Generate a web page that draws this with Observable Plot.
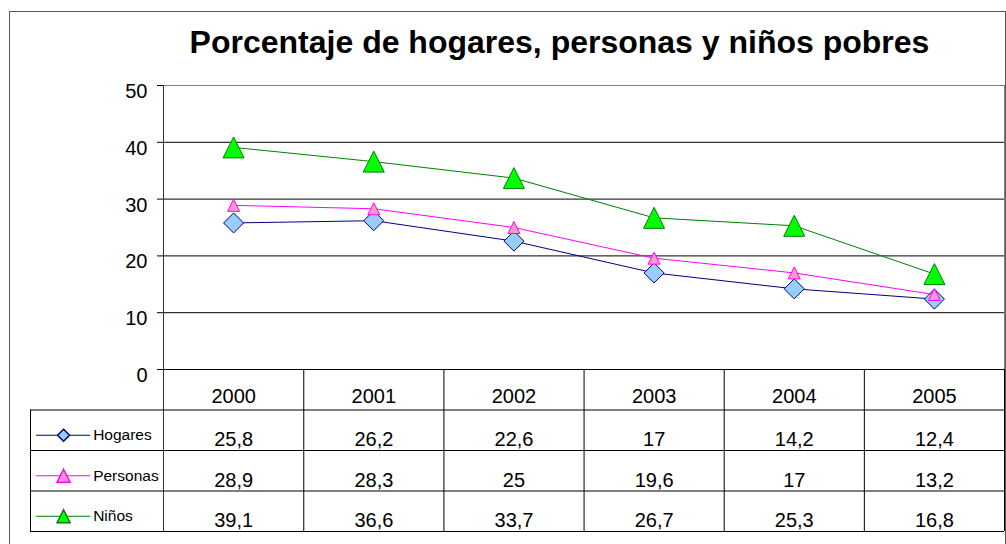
<!DOCTYPE html>
<html><head><meta charset="utf-8">
<script src="https://cdn.jsdelivr.net/npm/d3@7"></script>
<script src="https://cdn.jsdelivr.net/npm/@observablehq/plot@0.6"></script>
<style>
html,body{margin:0;padding:0;background:#fff;}
#wrap{position:relative;width:1006px;height:544px;overflow:hidden;font-family:"Liberation Sans",Arial,sans-serif;}
#chart,#table{position:absolute;left:0;top:0;}
#border{position:absolute;left:9px;top:11px;width:997px;height:600px;border:1px solid #555;box-sizing:border-box;}
#title{position:absolute;left:0;top:26px;width:1119px;text-align:center;font-weight:bold;font-size:32px;line-height:32px;color:#000;white-space:nowrap;}
</style></head>
<body>
<div id="wrap"><div id="chart"></div><div id="table"></div><div id="border"></div><div id="title"></div></div>
<script>
// ---- data ----
const title = "Porcentaje de hogares, personas y niños pobres";
const years = [2000, 2001, 2002, 2003, 2004, 2005];
const seriesNames = ["Hogares", "Personas", "Niños"];
const hogares = [25.8, 26.2, 22.6, 17, 14.2, 12.4];
const personas = [28.9, 28.3, 25, 19.6, 17, 13.2];
const ninos = [39.1, 36.6, 33.7, 26.7, 25.3, 16.8];
const yTicks = [0, 10, 20, 30, 40, 50];

// ---- styles ----
const seriesValues = [hogares, personas, ninos];
const lineColors = ["#000080", "#FF00FF", "#008000"];
const fillColors = ["#99CCFF", "#FF99CC", "#00FF00"];
const diamond = {draw(ctx, size) {const r = Math.sqrt(size / Math.PI); ctx.moveTo(0, -r); ctx.lineTo(r, 0); ctx.lineTo(0, r); ctx.lineTo(-r, 0); ctx.closePath();}};
const triangle = {draw(ctx, size) {const r = Math.sqrt(size / Math.PI); ctx.moveTo(0, -r); ctx.lineTo(r, r); ctx.lineTo(-r, r); ctx.closePath();}};
const symbols = [diamond, triangle, triangle];
const markerR = [10, 6, 10.5];
const legendR = [6, 6.5, 6.5];
const font = "'Liberation Sans', Arial, sans-serif";

document.getElementById("title").textContent = title;

const first = years[0] - 0.5, last = years[years.length - 1] + 0.5;
const legendWidth = 0.95; // legend column width, in year columns
const legendLeft = first - legendWidth;

const data = seriesNames.flatMap((s, si) => years.map((yr, i) => ({serie: s, si, year: yr, value: seriesValues[si][i], row: si + 1.5})));
const legend = seriesNames.map((s, si) => ({serie: s, si, row: si + 1.5}));
const colEdges = d3.range(years.length + 1).map((i) => first + i);
const fmt = (v) => String(v).replace(".", ",");

// ---- line chart ----
const marks = [];
marks.push(Plot.ruleY(yTicks, {stroke: "#000"}));
marks.push(Plot.ruleY([50], {x1: first, x2: last, stroke: "#808080"}));
marks.push(Plot.ruleX([last], {stroke: "#808080"}));
marks.push(Plot.ruleX([first], {stroke: "#333"}));
marks.push(Plot.axisY(yTicks, {anchor: "left", tickSize: 0, tickPadding: 10, fontSize: 20, dy: 6, label: null, fill: "#000"}));
seriesNames.forEach((s, si) => {
  const d = data.filter((r) => r.si === si);
  marks.push(Plot.line(d, {x: "year", y: "value", stroke: lineColors[si], strokeWidth: 1}));
  marks.push(Plot.dot(d, {x: "year", y: "value", symbol: symbols[si], r: markerR[si], fill: fillColors[si], stroke: lineColors[si], strokeWidth: 1}));
});

const chart = Plot.plot({
  width: 1006, height: 544,
  marginLeft: 157, marginRight: 2, marginTop: 85, marginBottom: 13,
  style: {fontFamily: font, background: "transparent", overflow: "visible"},
  x: {domain: [first, last], range: [163, 1004], axis: null},
  y: {domain: [0, 50], range: [369, 85], axis: null},
  marks
});
document.getElementById("chart").appendChild(chart);

// ---- data table ----
const tmarks = [];
tmarks.push(Plot.ruleY([1, 2, 3, 4], {stroke: "#000"}));
tmarks.push(Plot.ruleX([legendLeft], {y1: 1, y2: 4, stroke: "#000"}));
tmarks.push(Plot.ruleX(colEdges.slice(1), {y1: 0, y2: 4, stroke: "#000"}));
tmarks.push(Plot.text(years, {x: (d) => d, y: () => 0.5, text: (d) => String(d), fontSize: 20, dy: 6.5, fill: "#000"}));
tmarks.push(Plot.text(data, {x: "year", y: "row", text: (d) => fmt(d.value), fontSize: 20, dy: 9.5, fill: "#000"}));
seriesNames.forEach((s, si) => {
  const l = legend.filter((r) => r.si === si);
  tmarks.push(Plot.ruleY(l, {y: "row", x1: legendLeft + 0.043, x2: legendLeft + 0.43, stroke: lineColors[si], dy: 5}));
  tmarks.push(Plot.dot(l, {x: legendLeft + 0.236, y: "row", symbol: symbols[si], r: legendR[si], fill: fillColors[si], stroke: lineColors[si], dy: 5}));
});
tmarks.push(Plot.text(legend, {x: legendLeft + 0.447, y: "row", text: "serie", textAnchor: "start", fontSize: 15.5, dy: 5, fill: "#000"}));

const table = Plot.plot({
  width: 1006, height: 544,
  marginLeft: 30, marginRight: 2, marginTop: 369, marginBottom: 13,
  style: {fontFamily: font, background: "transparent", overflow: "visible"},
  x: {domain: [legendLeft, last], range: [30, 1004], axis: null},
  y: {domain: [0, 4], range: [369, 531], axis: null},
  marks: tmarks
});
document.getElementById("table").appendChild(table);
</script>
</body></html>
